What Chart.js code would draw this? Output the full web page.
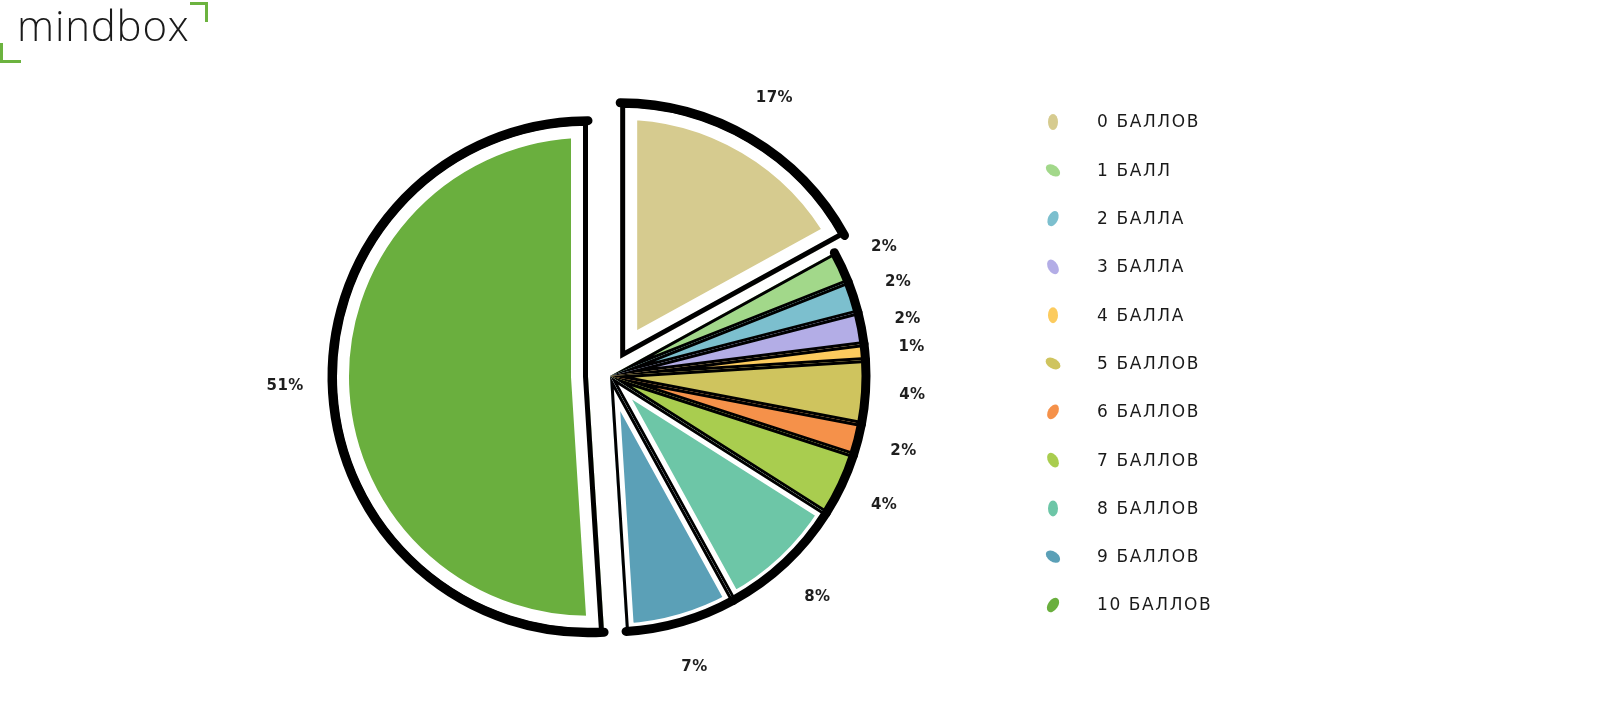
<!DOCTYPE html>
<html>
<head>
<meta charset="utf-8">
<script src="https://cdn.jsdelivr.net/npm/chart.js@4/dist/chart.umd.min.js"></script>
<style>
  html, body { margin:0; padding:0; background:#fff; }
  #wrap { position:relative; width:1599px; height:716px; }
  #logo { position:absolute; left:17px; top:4px; font-family:"Open Sans", sans-serif; font-weight:300;
          font-size:42px; line-height:1; letter-spacing:0.8px; color:#1a1a1a; }
  .br { position:absolute; border-color:#6cb33f; border-style:solid; border-width:0; }
</style>
</head>
<body>
<div id="wrap">
  <canvas id="pie" width="1599" height="716"></canvas>
  <div id="logo">mindbox</div>
  <div class="br" style="left:0;top:43px;width:18px;height:17px;border-left-width:3px;border-bottom-width:3px;"></div>
  <div class="br" style="left:190px;top:2px;width:15px;height:17px;border-top-width:3px;border-right-width:3px;"></div>
</div>
<script>
/* ── Mindbox NPS pie ── */

const labels  = ['0 БАЛЛОВ','1 БАЛЛ','2 БАЛЛА','3 БАЛЛА','4 БАЛЛА','5 БАЛЛОВ','6 БАЛЛОВ','7 БАЛЛОВ','8 БАЛЛОВ','9 БАЛЛОВ','10 БАЛЛОВ'];
const shares  = [17, 2, 2, 2, 1, 4, 2, 4, 8, 7, 51];
const colors  = ['#d6cb8f','#a2d88a','#7cbfce','#b3ade6','#fccb5e','#cfc45e','#f5914a','#a9cd4f','#6dc6a7','#5ba0b7','#6aaf3e'];

// pulled-out slices (px along the slice middle) and legend blob tilt, to mimic the hand drawing
const shift = [20, 0, 0, 0, 0, 0, 0, 0, 0, 0, 22];
const tilt  = [0, -55, 25, -30, 0, -60, 30, -30, 0, -55, 35];

function sliceGeom(arc, i) {
  const p = arc.getProps(['x','y','startAngle','endAngle','outerRadius']);
  const mid = (p.startAngle + p.endAngle) / 2;
  return { ...p, mid, cx: p.x + Math.cos(mid) * shift[i], cy: p.y + Math.sin(mid) * shift[i] };
}

// draw slices ourselves so a pulled slice is moved, not enlarged; then a sketchy outline
const sketch = {
  id: 'sketch',
  beforeDatasetDraw(chart, args) {
    const ctx = chart.ctx;
    args.meta.data.forEach((arc, i) => {
      const g = sliceGeom(arc, i);
      ctx.save();
      ctx.translate(g.cx - g.x, g.cy - g.y);
      arc.draw(ctx);
      ctx.restore();

      const path = () => {
        ctx.beginPath();
        ctx.moveTo(g.cx, g.cy);
        ctx.arc(g.cx, g.cy, g.outerRadius, g.startAngle, g.endAngle);
        ctx.closePath();
      };
      ctx.save();
      path();
      ctx.clip();
      ctx.lineJoin = 'round';
      const gap = shares[i] >= 15 ? 13 : (shares[i] >= 7 ? 4 : 0);
      if (gap) {
        ctx.lineWidth = 2 * (gap + 4);
        ctx.strokeStyle = '#fff';
        ctx.stroke();
      }
      ctx.lineWidth = shares[i] >= 15 ? 10 : 6;
      ctx.strokeStyle = '#000';
      ctx.stroke();
      ctx.restore();

      ctx.save();
      ctx.lineCap = 'round';
      ctx.lineWidth = 9;
      ctx.strokeStyle = '#000';
      ctx.beginPath();
      ctx.arc(g.cx, g.cy, g.outerRadius, g.startAngle, g.endAngle);
      ctx.stroke();
      ctx.restore();
    });
    return false;
  }
};

// percentage labels around the pie
const pctLabels = {
  id: 'pctLabels',
  afterDatasetsDraw(chart) {
    const ctx = chart.ctx;
    const meta = chart.getDatasetMeta(0);
    ctx.save();
    ctx.font = 'bold 15px "DejaVu Sans", sans-serif';
    ctx.fillStyle = '#1e1e1e';
    ctx.textAlign = 'center';
    ctx.textBaseline = 'middle';
    ctx.letterSpacing = '0.5px';
    meta.data.forEach((arc, i) => {
      const g = sliceGeom(arc, i);
      const r = g.outerRadius + 47;
      ctx.fillText(shares[i] + '%', g.cx + Math.cos(g.mid) * r, g.cy + Math.sin(g.mid) * r);
    });
    ctx.restore();
  }
};

// legend column with little tilted blobs
const blobLegend = {
  id: 'blobLegend',
  afterDraw(chart) {
    const ctx = chart.ctx;
    const x0 = 1053, y0 = 122, step = 48.3;
    ctx.save();
    ctx.font = '17px "DejaVu Sans", sans-serif';
    ctx.letterSpacing = '1.6px';
    ctx.textBaseline = 'middle';
    labels.forEach((lab, i) => {
      const y = y0 + i * step;
      ctx.fillStyle = colors[i];
      ctx.beginPath();
      ctx.ellipse(x0, y, 5, 8, tilt[i] * Math.PI / 180, 0, Math.PI * 2);
      ctx.fill();
      ctx.fillStyle = '#1a1a1a';
      ctx.fillText(lab, 1097, y + 1);
    });
    ctx.restore();
  }
};

new Chart(document.getElementById('pie'), {
  type: 'pie',
  data: {
    labels,
    datasets: [{
      data: shares,
      backgroundColor: colors,
      borderWidth: 0
    }]
  },
  options: {
    responsive: false,
    animation: false,
    radius: 256,
    layout: { padding: { left: 0, right: 379, top: 36, bottom: 0 } },
    plugins: { legend: { display: false }, tooltip: { enabled: false } }
  },
  plugins: [sketch, pctLabels, blobLegend]
});
</script>
</body>
</html>
